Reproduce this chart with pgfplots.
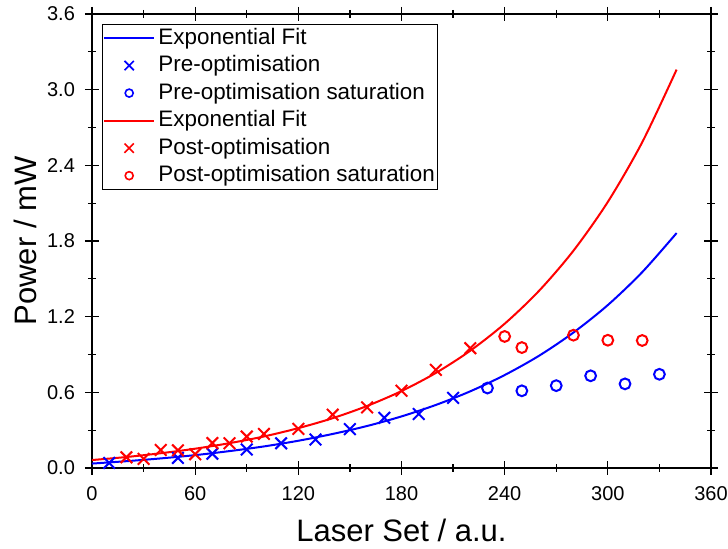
\documentclass[border=0pt]{standalone}
\usepackage{fontspec}
\setmainfont{Liberation Sans}
\usepackage{pgfplots}
\pgfplotsset{compat=1.18}

\pgfplotsset{
  fitline/.style={line width=1pt, no marks, smooth,
    legend image code/.code={\draw[##1] (0pt,0pt) -- (25.3pt,0pt);}},
  xpts/.style={only marks, mark=x, mark size=4.1pt, line width=1pt,
    legend image code/.code={\draw[##1, mark size=3.3pt, line width=0.8pt] plot coordinates {(12.65pt,0pt)};}},
  opts/.style={only marks, mark=o, mark size=2.7pt, line width=1pt,
    legend image code/.code={\draw[##1, mark size=2pt, line width=0.8pt] plot coordinates {(12.65pt,0pt)};}},
}

\begin{document}
\begin{tikzpicture}
\begin{axis}[
  at={(0,0)}, anchor=south west,
  scale only axis,
  width=309.5pt, height=227pt,
  xmin=0, xmax=360, ymin=0, ymax=3.6,
  xtick={0,60,...,360}, minor x tick num=1,
  ytick={0,0.6,1.2,1.8,2.4,3.0,3.6}, minor y tick num=1,
  y tick label style={/pgf/number format/fixed, /pgf/number format/fixed zerofill,
    /pgf/number format/precision=1, xshift=-1.5pt},
  /pgf/number format/assume math mode=true,
  tick align=center,
  major tick length=7pt, minor tick length=4pt,
  every tick/.style={black, line width=0.6pt},
  axis line style={line width=0.7pt},
  ticklabel style={font=\fontsize{10}{12}\selectfont},
  x tick label style={yshift=-2pt},
  xlabel={Laser Set / a.u.},
  ylabel={Power / mW},
  label style={font=\fontsize{15.5}{18}\selectfont},
  xlabel style={at={(axis description cs:0.5,0)}, anchor=base, yshift=-36.9pt},
  ylabel style={at={(axis description cs:0,0.5)}, anchor=base, yshift=27.5pt},
  legend style={at={(axis description cs:0.0168,0.9784)}, anchor=north west,
    draw=black, line width=0.5pt, inner xsep=0pt, inner ysep=0pt,
    font=\fontsize{11.2}{13.76}\selectfont,
    nodes={text height=8.4pt, text depth=2.2pt, inner ysep=1.58pt, inner xsep=1.5pt},
    row sep=0pt},
  legend cell align=left,
]
% blue exponential fit
\addplot[blue, fitline] coordinates {
  (0,0.035) (20,0.054) (40,0.076) (60,0.102) (80,0.134) (100,0.171)
  (120,0.216) (140,0.270) (160,0.333) (180,0.409) (200,0.500) (220,0.608)
  (240,0.737) (260,0.890) (280,1.074) (300,1.292) (320,1.553) (340,1.863)
};
\addlegendentry{Exponential Fit}
\addplot[blue, xpts] coordinates {
  (10,0.040) (50,0.080) (70,0.113) (90,0.147) (110,0.196)
  (130,0.226) (150,0.308) (170,0.398) (190,0.428) (210,0.556)
};
\addlegendentry{Pre-optimisation}
\addplot[blue, opts] coordinates {
  (230,0.634) (250,0.612) (270,0.653) (290,0.731) (310,0.667) (330,0.743)
};
\addlegendentry{Pre-optimisation saturation}
% red exponential fit
\addplot[red, fitline] coordinates {
  (0,0.063) (20,0.087) (40,0.117) (60,0.153) (80,0.197) (100,0.250)
  (120,0.316) (140,0.395) (160,0.492) (180,0.610) (200,0.754) (220,0.930)
  (240,1.144) (260,1.405) (280,1.723) (300,2.110) (320,2.583) (340,3.159)
};
\addlegendentry{Exponential Fit}
\addplot[red, xpts] coordinates {
  (20,0.085) (30,0.072) (40,0.143) (50,0.140) (60,0.109) (70,0.198)
  (80,0.196) (90,0.249) (100,0.270) (120,0.310) (140,0.423) (160,0.481)
  (180,0.613) (200,0.778) (220,0.950)
};
\addlegendentry{Post-optimisation}
\addplot[red, opts] coordinates {
  (240,1.043) (250,0.955) (280,1.053) (300,1.013) (320,1.011)
};
\addlegendentry{Post-optimisation saturation}
\end{axis}
\pgfresetboundingbox
\useasboundingbox (-46pt,-40.5pt) rectangle (318pt,234pt);
\end{tikzpicture}
\end{document}
